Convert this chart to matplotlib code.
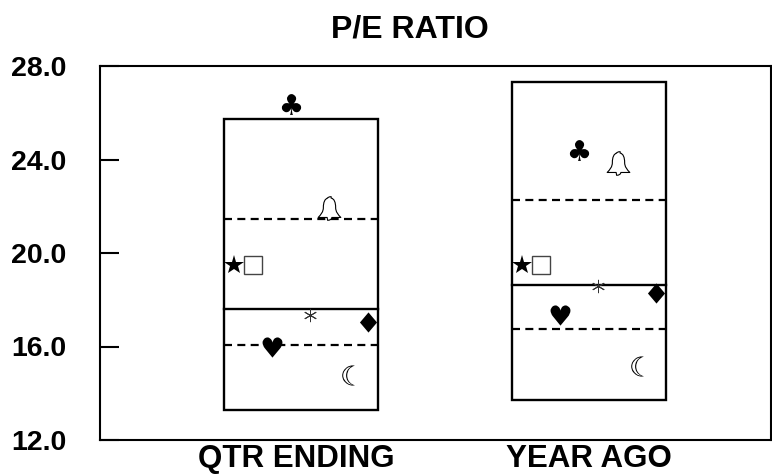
import matplotlib
matplotlib.use("Agg")
import matplotlib.pyplot as plt
from matplotlib.path import Path
from matplotlib.patches import Rectangle

plt.rcParams['font.family'] = ['Liberation Sans', 'DejaVu Sans']
plt.rcParams['mathtext.fontset'] = 'dejavusans'

categories = ["QTR ENDING", "YEAR AGO"]
box_low = [13.3, 13.7]
box_q1 = [16.05, 16.75]
box_median = [17.6, 18.65]
box_q3 = [21.45, 22.25]
box_high = [25.75, 27.3]
y_ticks = [12.0, 16.0, 20.0, 24.0, 28.0]

club_values = [26.37, 24.4]
bell_values = [21.93, 23.83]
star_values = [19.49, 19.47]
square_values = [19.49, 19.47]
asterisk_values = [17.35, 18.59]
diamond_values = [17.03, 18.29]
heart_values = [16.0, 17.35]
moon_values = [14.76, 15.17]

W, H = 772, 474
fig = plt.figure(figsize=(W/100, H/100), dpi=100)
L, R, T, B = 100, 771, 66, 440
ax = fig.add_axes([L/W, 1-B/H, (R-L)/W, (B-T)/H])
ax.set_xlim(L, R)
ax.set_ylim(12, 28)
for s in ax.spines.values():
    s.set_linewidth(1.5)
ax.set_yticks(y_ticks)
ax.set_yticklabels([f"{v:.1f}" for v in y_ticks], fontsize=20.5, fontweight='bold')
ax.tick_params(axis='y', direction='in', length=14, width=1.5, pad=24)
ax.tick_params(axis='x', length=0, pad=3)
centers = [300.5, 589]
half = 77
ax.set_xticks([296, 589])
ax.set_xticklabels(categories, fontsize=22.5, fontweight='bold')
fig.text(410/W, 1-29/H, "P/E RATIO", ha='center', va='center', fontsize=23, fontweight='bold')

diamond = Path([(0, 1), (0.85, 0), (0, -1), (-0.85, 0), (0, 1)])
bell = Path(
    [(-0.07, 0.44), (-0.07, 0.5), (0.07, 0.5), (0.07, 0.44),
     (0.2, 0.42), (0.26, 0.25), (0.26, 0.05),
     (0.26, -0.15), (0.36, -0.25), (0.48, -0.38),
     (0.1, -0.38), (0.08, -0.5), (-0.08, -0.5), (-0.1, -0.38),
     (-0.48, -0.38), (-0.36, -0.25), (-0.26, -0.15), (-0.26, 0.05),
     (-0.26, 0.25), (-0.2, 0.42), (-0.07, 0.44)],
    [Path.MOVETO, Path.CURVE3, Path.CURVE3, Path.LINETO,
     Path.CURVE4, Path.CURVE4, Path.CURVE4,
     Path.CURVE4, Path.CURVE4, Path.CURVE4,
     Path.LINETO, Path.CURVE3, Path.CURVE3, Path.LINETO,
     Path.LINETO, Path.CURVE4, Path.CURVE4, Path.CURVE4,
     Path.CURVE4, Path.CURVE4, Path.CURVE4])

for i, c in enumerate(centers):
    ax.add_patch(Rectangle((c-half, box_low[i]), 2*half, box_high[i]-box_low[i],
                           fill=False, ec='black', lw=1.7, zorder=3))
    ax.plot([c-half, c+half], [box_median[i]]*2, color='black', lw=1.7, zorder=3)
    for v in (box_q1[i], box_q3[i]):
        ax.plot([c-half, c+half], [v, v], color='black', lw=1.6, zorder=3,
                dashes=(3.6, 2.4), dash_capstyle='butt')

    ax.plot([c-10], [club_values[i]], marker='$\u2663$', ms=15, color='black', mew=0, zorder=4)
    ax.plot([c+28.5], [bell_values[i]], marker=bell, ms=17, mfc='white', mec='black', mew=0.8, zorder=4)
    ax.plot([c-67], [star_values[i]], marker='*', ms=15, color='black', mew=0, zorder=4)
    ax.plot([c-48], [square_values[i]], marker='s', ms=12.5, mfc='white', mec='#444444', mew=1, zorder=4)
    ax.plot([c+9], [asterisk_values[i]], marker=(6, 2, 0), ms=9.5, color='#333333', mew=0.7, zorder=4)
    ax.plot([c+67], [diamond_values[i]], marker=diamond, ms=14.5, color='black', mew=0, zorder=4)
    ax.plot([c-29], [heart_values[i]], marker='$\u2665$', ms=14.5, color='black', mew=0, zorder=4)
    ax.plot([c+47.5], [moon_values[i]], marker='$\u263E$', ms=14.5, color='black', mew=0, zorder=4)

fig.savefig("out.png", dpi=100)
